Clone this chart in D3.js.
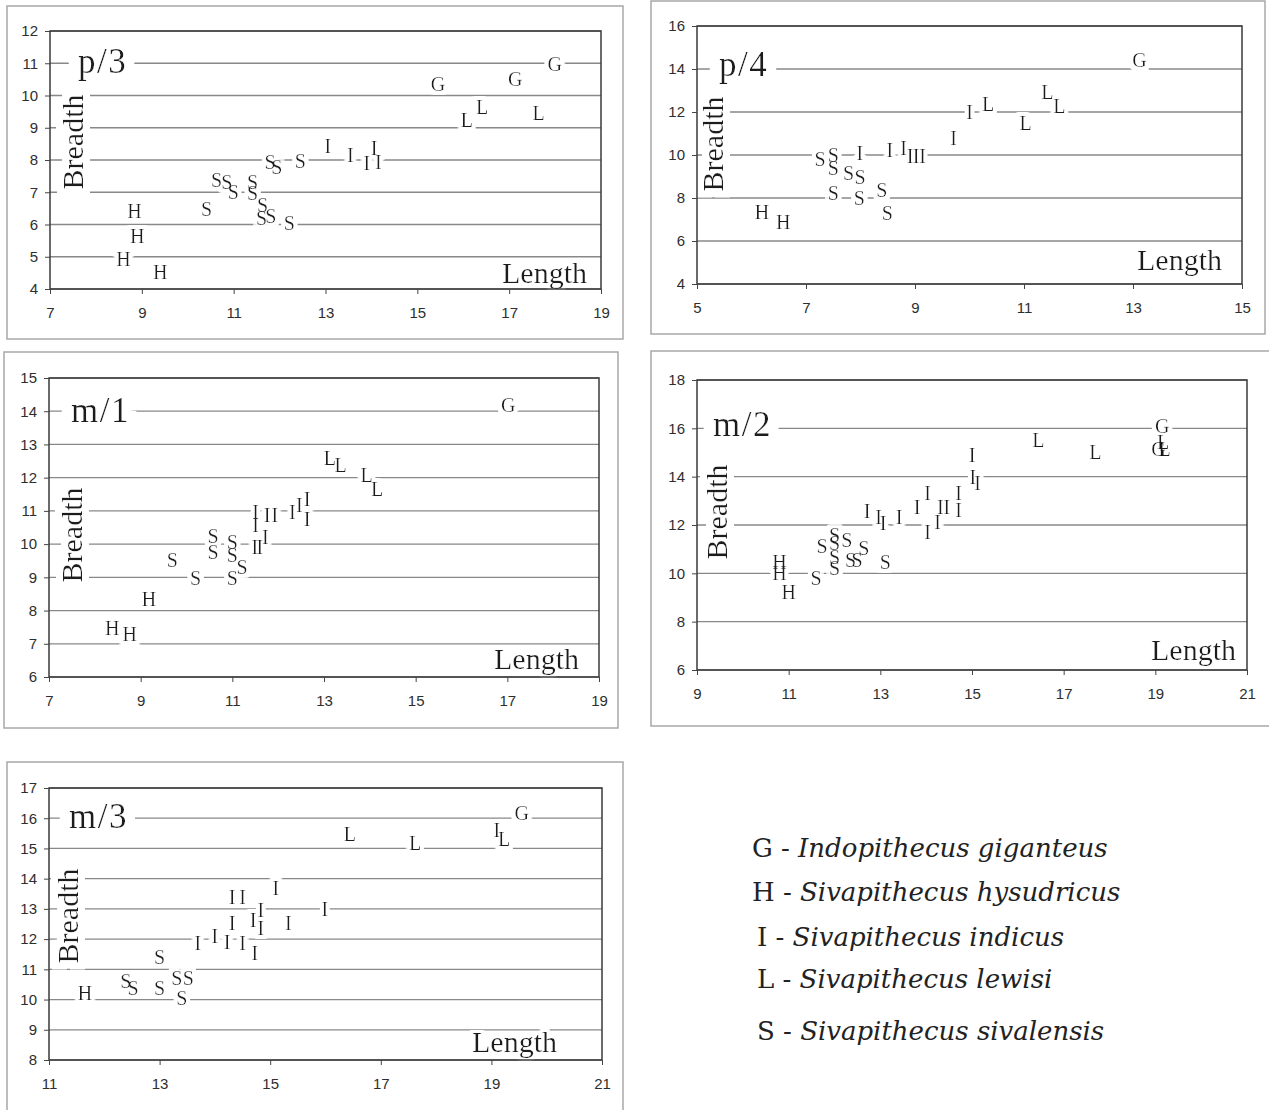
<!DOCTYPE html>
<html lang="en">
<head>
<meta charset="UTF-8">
<title>Sivapithecus tooth dimensions</title>
<script src="https://d3js.org/d3.v7.min.js"></script>
<style>
    body { margin: 0; background: #fff; }
    svg { display: block; }
    .tick text { font-family: "Liberation Sans", Arial, sans-serif; font-size: 15px; fill: #2e2e2e; }
    .tick line { stroke: #444; }
</style>
</head>
<body>
<svg width="1269" height="1110"></svg>
<script>
    // species codes and their names for the key
    const speciesCodes = ["G", "H", "I", "L", "S"];
    const speciesNames = ["Indopithecus giganteus", "Sivapithecus hysudricus", "Sivapithecus indicus",
        "Sivapithecus lewisi", "Sivapithecus sivalensis"];

    // [species, length, breadth]
    const p3Points = [
        ["H", 8.84, 6.43], ["H", 8.90, 5.64], ["H", 8.60, 4.92], ["H", 9.40, 4.54],
        ["S", 10.41, 6.47], ["S", 10.63, 7.38], ["S", 10.85, 7.33], ["S", 10.99, 7.02], ["S", 11.41, 7.33],
        ["S", 11.41, 6.99], ["S", 11.63, 6.60], ["S", 11.61, 6.19], ["S", 11.81, 6.26], ["S", 12.21, 6.06],
        ["S", 11.79, 7.95], ["S", 11.94, 7.79], ["S", 12.45, 7.98],
        ["I", 13.05, 8.44], ["I", 13.54, 8.16], ["I", 13.90, 7.92], ["I", 14.06, 8.36], ["I", 14.15, 7.95],
        ["L", 16.08, 9.24], ["L", 16.41, 9.65], ["L", 17.64, 9.45],
        ["G", 15.45, 10.35], ["G", 17.13, 10.51], ["G", 17.99, 10.98]
    ];
    const p4Points = [
        ["H", 6.19, 7.36], ["H", 6.58, 6.90],
        ["S", 7.26, 9.80], ["S", 7.50, 10.0], ["S", 7.50, 9.38], ["S", 7.78, 9.15], ["S", 7.99, 8.99],
        ["S", 7.50, 8.22], ["S", 7.98, 7.99], ["S", 8.39, 8.37], ["S", 8.49, 7.32],
        ["I", 7.99, 10.08], ["I", 8.54, 10.23], ["I", 8.79, 10.31], ["I", 8.91, 9.97], ["I", 9.02, 9.97],
        ["I", 9.14, 9.97], ["I", 9.71, 10.77], ["I", 10.0, 12.01],
        ["L", 10.34, 12.37], ["L", 11.03, 11.50], ["L", 11.43, 12.94], ["L", 11.65, 12.28],
        ["G", 13.12, 14.42]
    ];
    const m1Points = [
        ["H", 8.38, 7.48], ["H", 8.76, 7.28], ["H", 9.18, 8.34],
        ["S", 9.69, 9.52], ["S", 10.20, 8.97], ["S", 10.58, 10.25], ["S", 10.58, 9.75], ["S", 11.0, 10.07],
        ["S", 11.0, 9.67], ["S", 11.21, 9.32], ["S", 11.0, 8.97],
        ["I", 11.51, 10.98], ["I", 11.51, 10.58], ["I", 11.76, 10.88], ["I", 11.93, 10.88], ["I", 11.49, 9.92],
        ["I", 11.60, 9.92], ["I", 11.72, 10.2], ["I", 12.31, 10.98], ["I", 12.46, 11.18], ["I", 12.63, 11.36],
        ["I", 12.63, 10.76],
        ["L", 13.13, 12.59], ["L", 13.36, 12.39], ["L", 13.93, 12.08], ["L", 14.16, 11.66],
        ["G", 17.02, 14.20]
    ];
    const m2Points = [
        ["H", 10.80, 10.48], ["H", 10.80, 10.03], ["H", 11.0, 9.24],
        ["S", 11.60, 9.79], ["S", 11.73, 11.14], ["S", 12.0, 11.59], ["S", 12.0, 11.24], ["S", 12.0, 10.69],
        ["S", 12.0, 10.21], ["S", 12.27, 11.38], ["S", 12.35, 10.55], ["S", 12.49, 10.55], ["S", 12.64, 11.03],
        ["S", 13.11, 10.48],
        ["I", 12.71, 12.59], ["I", 12.96, 12.34], ["I", 13.06, 12.07], ["I", 13.41, 12.34], ["I", 13.80, 12.73],
        ["I", 14.03, 13.31], ["I", 14.03, 11.72], ["I", 14.25, 12.14], ["I", 14.31, 12.76], ["I", 14.45, 12.76],
        ["I", 14.71, 13.31], ["I", 14.71, 12.62], ["I", 15.0, 14.90], ["I", 15.02, 14.0], ["I", 15.12, 13.72],
        ["L", 16.45, 15.52], ["L", 17.69, 15.03], ["L", 19.17, 15.45], ["L", 19.20, 15.14],
        ["G", 19.15, 16.10], ["G", 19.07, 15.14]
    ];
    const m3Points = [
        ["H", 11.65, 10.21],
        ["S", 12.39, 10.62], ["S", 12.52, 10.37], ["S", 13.0, 11.42], ["S", 13.0, 10.37], ["S", 13.31, 10.70],
        ["S", 13.52, 10.70], ["S", 13.40, 10.04],
        ["I", 13.69, 11.88], ["I", 14.0, 12.10], ["I", 14.22, 11.91], ["I", 14.31, 12.54], ["I", 14.31, 13.38],
        ["I", 14.50, 13.38], ["I", 14.50, 11.86], ["I", 14.69, 12.63], ["I", 14.72, 11.55], ["I", 14.83, 12.96],
        ["I", 14.83, 12.36], ["I", 15.10, 13.68], ["I", 15.33, 12.52], ["I", 15.99, 13.0], ["I", 19.10, 15.61],
        ["L", 16.44, 15.48], ["L", 17.62, 15.17], ["L", 19.23, 15.31],
        ["G", 19.55, 16.16]
    ];

    // axis tick labels
    const p3XTicks = [7, 9, 11, 13, 15, 17, 19];
    const p3YTicks = [4, 5, 6, 7, 8, 9, 10, 11, 12];
    const p4XTicks = [5, 7, 9, 11, 13, 15];
    const p4YTicks = [4, 6, 8, 10, 12, 14, 16];
    const m1XTicks = [7, 9, 11, 13, 15, 17, 19];
    const m1YTicks = [6, 7, 8, 9, 10, 11, 12, 13, 14, 15];
    const m2XTicks = [9, 11, 13, 15, 17, 19, 21];
    const m2YTicks = [6, 8, 10, 12, 14, 16, 18];
    const m3XTicks = [11, 13, 15, 17, 19, 21];
    const m3YTicks = [8, 9, 10, 11, 12, 13, 14, 15, 16, 17];

    const svg = d3.select("svg");
    const serif = "'Liberation Serif', 'Times New Roman', serif";

    // white knock-out around text so the gridlines break under it
    const defs = svg.append("defs");
    [["halo3", 3], ["halo4", 4], ["halo7", 7], ["halo10", 10]].forEach(([id, r]) => {
        const f = defs.append("filter").attr("id", id)
            .attr("x", "-20%").attr("y", "-20%").attr("width", "140%").attr("height", "140%");
        f.append("feMorphology").attr("in", "SourceAlpha").attr("operator", "dilate")
            .attr("radius", r).attr("result", "grow");
        f.append("feFlood").attr("flood-color", "#fff");
        f.append("feComposite").attr("in2", "grow").attr("operator", "in").attr("result", "bg");
        const m = f.append("feMerge");
        m.append("feMergeNode").attr("in", "bg");
        m.append("feMergeNode").attr("in", "SourceGraphic");
    });

    // frame / plot box / label placement for each panel
    const panels = [
        { name: "p/3", pts: p3Points, xt: p3XTicks, yt: p3YTicks,
          frame: [7, 6, 623, 339], plot: [50, 31, 601, 289], title: [78, 73], breadth: [83, 142], length: [587, 283] },
        { name: "p/4", pts: p4Points, xt: p4XTicks, yt: p4YTicks,
          frame: [651, 1, 1265, 334], plot: [697, 26, 1242, 284], title: [719, 76], breadth: [723, 144], length: [1222, 270] },
        { name: "m/1", pts: m1Points, xt: m1XTicks, yt: m1YTicks,
          frame: [4, 352, 618, 728], plot: [49, 378, 599, 677], title: [71, 422], breadth: [82, 535], length: [579, 669] },
        { name: "m/2", pts: m2Points, xt: m2XTicks, yt: m2YTicks,
          frame: [651, 351, 1285, 726], plot: [697, 380, 1247, 670], title: [713, 436], breadth: [727, 512], length: [1236, 660] },
        { name: "m/3", pts: m3Points, xt: m3XTicks, yt: m3YTicks,
          frame: [7, 762, 623, 1125], plot: [49, 788, 602, 1060], title: [69, 828], breadth: [78, 916], length: [557, 1052] }
    ];

    panels.forEach(p => {
        const g = svg.append("g");
        const [fx0, fy0, fx1, fy1] = p.frame;
        const [px0, py0, px1, py1] = p.plot;

        g.append("rect")
            .attr("x", fx0).attr("y", fy0)
            .attr("width", fx1 - fx0).attr("height", fy1 - fy0)
            .attr("fill", "#fff").attr("stroke", "#a8a8a8").attr("stroke-width", 1.5);

        const x = d3.scaleLinear().domain(d3.extent(p.xt)).range([px0, px1]);
        const y = d3.scaleLinear().domain(d3.extent(p.yt)).range([py1, py0]);

        // horizontal gridlines
        g.selectAll(".grid")
            .data(p.yt)
            .enter()
            .append("line")
            .attr("x1", px0).attr("x2", px1)
            .attr("y1", d => y(d)).attr("y2", d => y(d))
            .attr("stroke", "#888").attr("stroke-width", 1.3);

        g.append("text")
            .attr("filter", "url(#halo10)")
            .attr("x", p.title[0]).attr("y", p.title[1])
            .attr("font-family", serif).attr("font-size", 35).attr("letter-spacing", 1.5)
            .attr("fill", "#1e1e1e")
            .text(p.name);

        g.append("text")
            .attr("filter", "url(#halo7)")
            .attr("transform", `translate(${p.breadth[0]},${p.breadth[1]}) rotate(-90)`)
            .attr("text-anchor", "middle")
            .attr("font-family", serif).attr("font-size", 30)
            .attr("fill", "#1e1e1e")
            .text("Breadth");

        g.append("text")
            .attr("filter", "url(#halo3)")
            .attr("x", p.length[0]).attr("y", p.length[1])
            .attr("text-anchor", "end")
            .attr("font-family", serif).attr("font-size", 30)
            .attr("fill", "#1e1e1e")
            .text("Length");

        // letter markers
        g.append("g")
            .attr("filter", "url(#halo4)")
            .attr("fill", "#1a1a1a")
            .selectAll("text")
            .data(p.pts)
            .enter()
            .append("text")
            .attr("x", d => x(d[1]))
            .attr("y", d => y(d[2]))
            .attr("dy", "0.35em")
            .attr("text-anchor", "middle")
            .attr("font-family", serif).attr("font-size", 20)
            .text(d => d[0]);

        // plot box
        g.append("rect")
            .attr("x", px0).attr("y", py0)
            .attr("width", px1 - px0).attr("height", py1 - py0)
            .attr("fill", "none").attr("stroke", "#3a3a3a").attr("stroke-width", 1.5);

        g.append("g")
            .attr("transform", `translate(${px0},0)`)
            .call(d3.axisLeft(y).tickValues(p.yt).tickSize(5).tickPadding(7).tickFormat(d3.format("d")))
            .call(a => a.select(".domain").remove());

        g.append("g")
            .attr("transform", `translate(0,${py1})`)
            .call(d3.axisBottom(x).tickValues(p.xt).tickSize(5).tickPadding(13).tickFormat(d3.format("d")))
            .call(a => a.select(".domain").remove());
    });

    // species key
    const keyRows = [857, 901, 946, 988, 1040];
    const keyX = [752, 752, 757, 757, 757];
    const key = svg.append("g")
        .attr("font-family", "'DejaVu Serif', serif")
        .attr("font-size", 26)
        .attr("fill", "#222");

    speciesCodes.forEach((c, i) => {
        const t = key.append("text").attr("x", keyX[i]).attr("y", keyRows[i]);
        t.append("tspan").text(c + " - ");
        t.append("tspan").attr("font-style", "italic").text(speciesNames[i]);
    });
</script>
</body>
</html>
